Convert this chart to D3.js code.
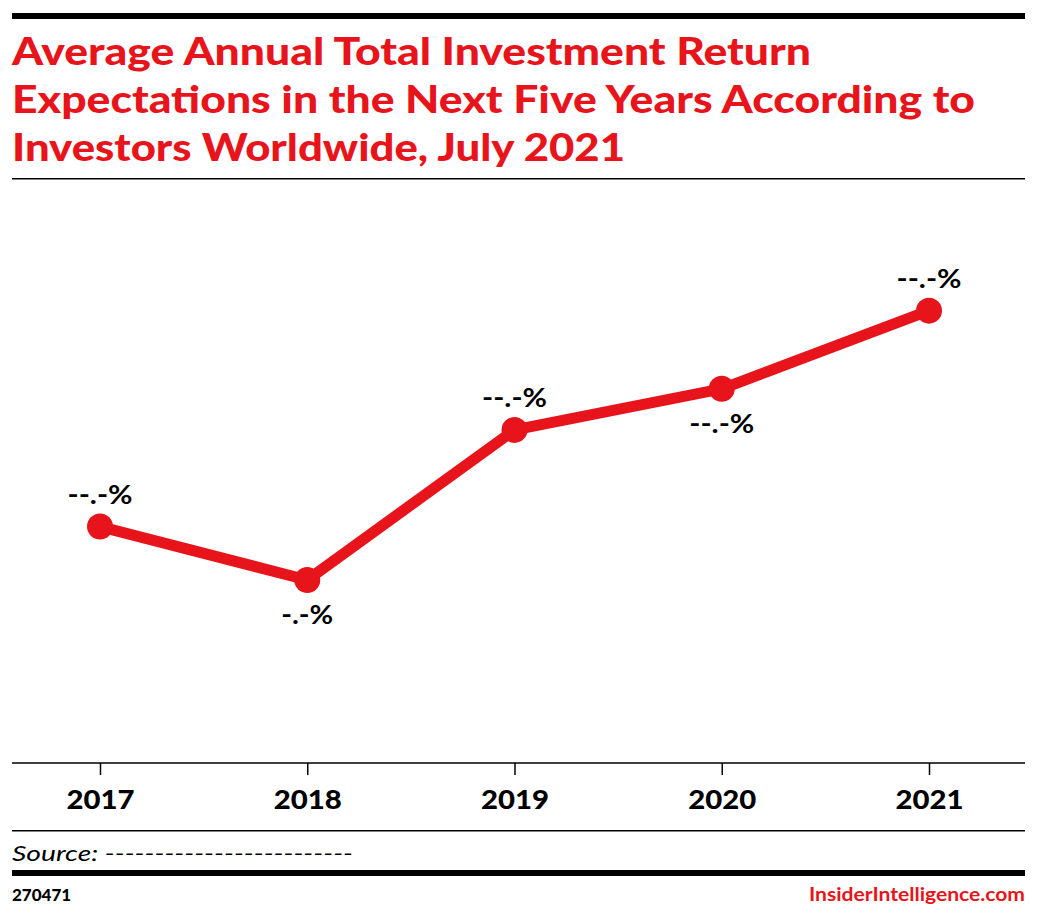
<!DOCTYPE html>
<html><head><meta charset="utf-8">
<script src="https://cdn.jsdelivr.net/npm/d3@7"></script>
<style>body{margin:0;background:#fff}svg{display:block}</style>
</head><body>
<script>
const years = ["2017","2018","2019","2020","2021"];
const values = [11.5, 8.9, 16.2, 18.2, 22.0];
const labels = ["--.-%","-.-%","--.-%","--.-%","--.-%"];
const labelPos = ["above","below","above","below","above"];
const titleLines = ["Average Annual Total Investment Return","Expectations in the Next Five Years According to","Investors Worldwide, July 2021"];
const titleWidths = [799, 963, 613];

const W=1038,H=919,red="#e8141c";
const svg=d3.select("body").append("svg").attr("width",W).attr("height",H);
const font="Lato, 'Open Sans', sans-serif";
svg.append("rect").attr("x",12).attr("y",13).attr("width",1013).attr("height",6).attr("fill","#000");
svg.selectAll(".t").data(titleLines).enter().append("text")
 .attr("x",12).attr("y",(d,i)=>65+i*48).attr("fill",red).attr("font-family",font)
 .attr("font-weight",900).attr("font-size",38).attr("textLength",(d,i)=>titleWidths[i])
 .attr("lengthAdjust","spacingAndGlyphs").text(d=>d);
svg.append("rect").attr("x",12).attr("y",178).attr("width",1013).attr("height",1.5).attr("fill","#000");

const x=d3.scalePoint().domain(years).range([100,929]);
const y=d3.scaleLinear().domain([0,25]).range([763,249]);
svg.append("line").attr("x1",12).attr("x2",1025).attr("y1",763).attr("y2",763).attr("stroke","#000").attr("stroke-width",1.5);
const ax=svg.append("g").attr("transform","translate(0,763)").call(d3.axisBottom(x).tickSize(12).tickPadding(16));
ax.select(".domain").remove();
ax.selectAll("line").attr("stroke","#000").attr("stroke-width",1.5);
ax.selectAll("text").attr("font-family",font).attr("font-weight",900).attr("font-size",26).attr("fill","#000")
 .attr("textLength",68).attr("lengthAdjust","spacingAndGlyphs");

const pts=years.map((yr,i)=>({yr,v:values[i],l:labels[i],p:labelPos[i]}));
svg.append("path").datum(pts).attr("fill","none").attr("stroke",red).attr("stroke-width",11)
 .attr("stroke-linejoin","round").attr("d",d3.line().x(d=>x(d.yr)).y(d=>y(d.v)));
svg.selectAll(".c").data(pts).enter().append("circle").attr("cx",d=>x(d.yr)).attr("cy",d=>y(d.v)).attr("r",13).attr("fill",red);
svg.selectAll(".l").data(pts).enter().append("text").attr("x",d=>x(d.yr)).attr("y",d=>y(d.v)+(d.p=="above"?-23:44))
 .attr("text-anchor","middle").attr("font-family",font).attr("font-weight",700).attr("font-size",26)
 .attr("textLength",d=>d.l.length*13).attr("lengthAdjust","spacingAndGlyphs").text(d=>d.l);

svg.append("rect").attr("x",12).attr("y",830).attr("width",1013).attr("height",1.5).attr("fill","#000");
svg.append("text").attr("x",12).attr("y",861).attr("font-family",font).attr("font-style","italic").attr("font-size",21)
 .attr("textLength",341).attr("lengthAdjust","spacingAndGlyphs").text("Source: -------------------------");
svg.append("rect").attr("x",12).attr("y",870).attr("width",1013).attr("height",6).attr("fill","#000");
svg.append("text").attr("x",12).attr("y",901).attr("font-family",font).attr("font-weight",900).attr("font-size",17).text("270471");
svg.append("text").attr("x",1025).attr("y",901).attr("text-anchor","end").attr("fill",red).attr("font-family",font).attr("font-weight",700).attr("font-size",19)
 .attr("textLength",216).attr("lengthAdjust","spacingAndGlyphs").text("InsiderIntelligence.com");
</script></body></html>
